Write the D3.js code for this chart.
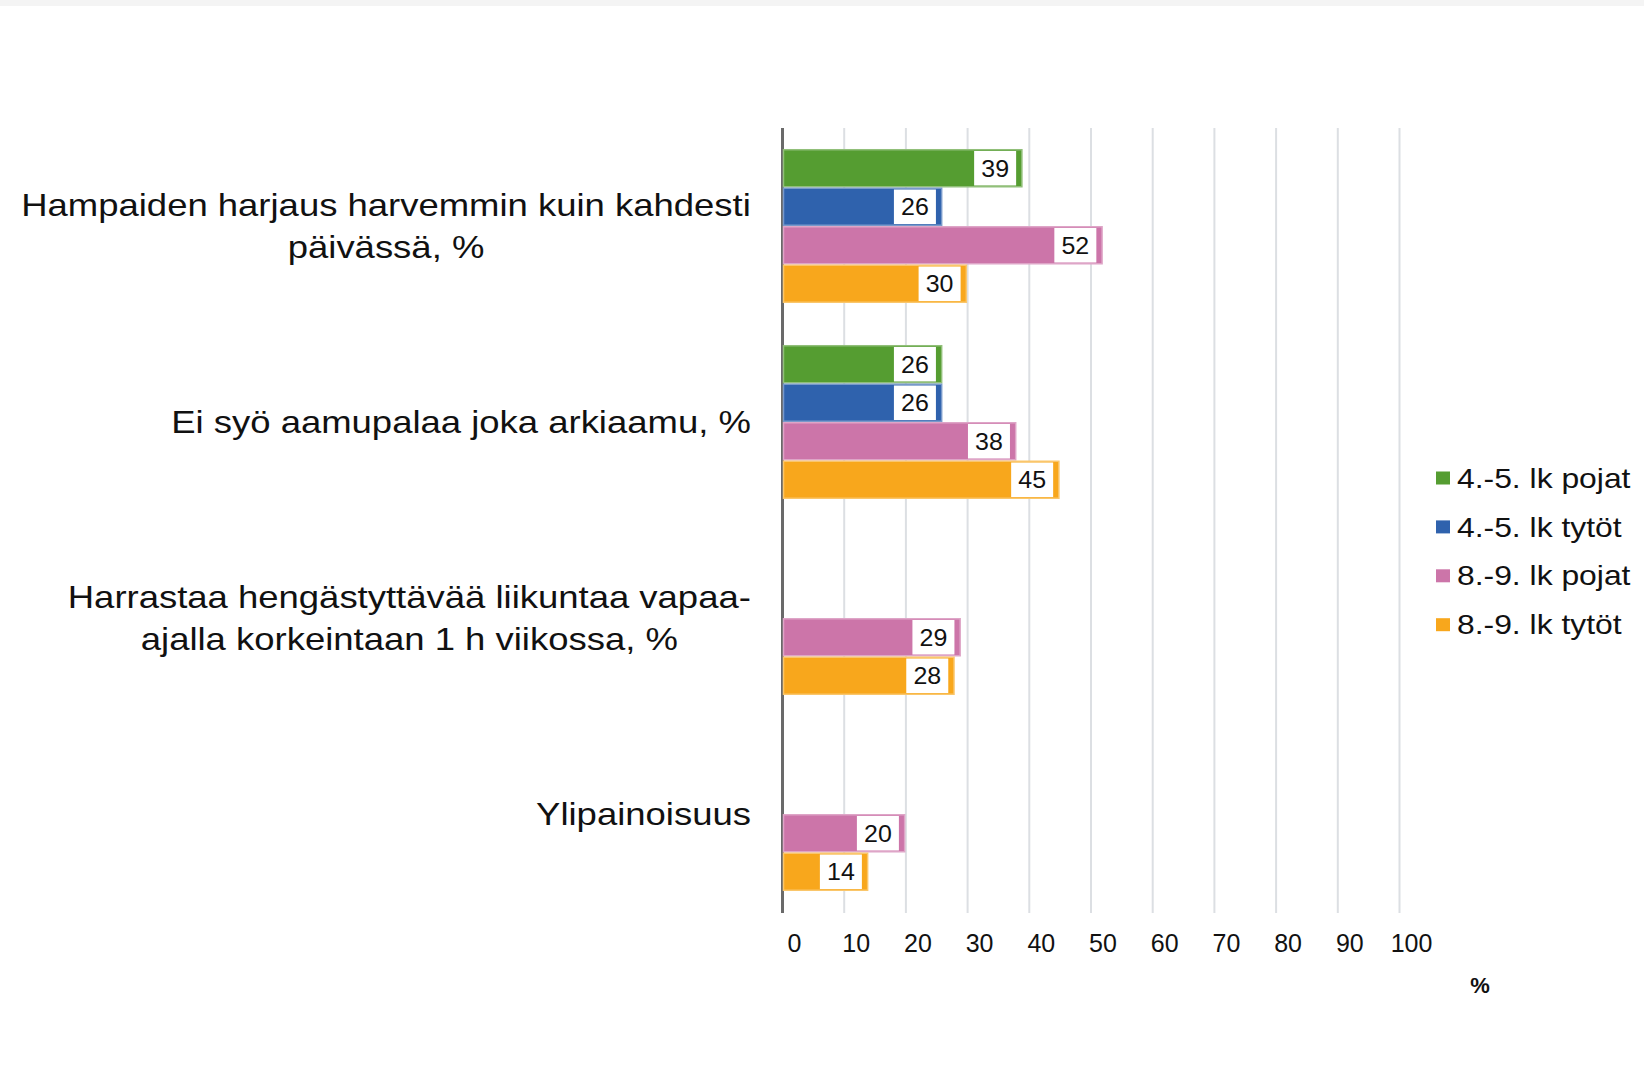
<!DOCTYPE html>
<html>
<head>
<meta charset="utf-8">
<script src="https://cdn.jsdelivr.net/npm/d3@7"></script>
<style>
  html, body { margin: 0; padding: 0; background: #ffffff; }
  svg { display: block; font-family: "Liberation Sans", Arial, sans-serif; }
</style>
</head>
<body>
<div id="chart"></div>
<script>
// Data
var categories = [
    ["Hampaiden harjaus harvemmin kuin kahdesti", "päivässä, %"],
    ["Ei syö aamupalaa joka arkiaamu, %"],
    ["Harrastaa hengästyttävää liikuntaa vapaa-", "ajalla korkeintaan 1 h viikossa, %"],
    ["Ylipainoisuus"]
];
var seriesNames = ["4.-5. lk pojat", "4.-5. lk tytöt", "8.-9. lk pojat", "8.-9. lk tytöt"];
var seriesColors = ["#559d31", "#2f62ad", "#cc75a9", "#f8a71c"];
var boys45 = [39, 26, null, null];
var girls45 = [26, 26, null, null];
var boys89 = [52, 38, 29, 20];
var girls89 = [30, 45, 28, 14];
var tickValues = [0, 10, 20, 30, 40, 50, 60, 70, 80, 90, 100];
var axisTitle = "%";

var seriesValues = [boys45, girls45, boys89, girls89];

// Layout
var width = 1644, height = 1090;
var plotLeft = 782, plotRight = 1399;
var plotTop = 128, plotBottom = 913;

var svg = d3.select("#chart").append("svg")
    .attr("width", width)
    .attr("height", height);

svg.append("rect")
    .attr("x", 0).attr("y", 0)
    .attr("width", width).attr("height", 6)
    .attr("fill", "#f4f4f4");

var x = d3.scaleLinear().domain([0, 100]).range([plotLeft, plotRight]);

var y0 = d3.scaleBand()
    .domain(d3.range(categories.length))
    .range([plotTop, plotBottom - 1])
    .padding(0);

var y1 = d3.scaleBand()
    .domain(d3.range(seriesNames.length))
    .range([0, y0.bandwidth()])
    .paddingInner(0)
    .paddingOuter(0.545);

// Gridlines + tick labels through the axis
var xAxis = d3.axisBottom(x)
    .tickValues(tickValues)
    .tickSize(-(plotBottom - plotTop))
    .tickPadding(21)
    .tickFormat(d3.format("d"));

var axisG = svg.append("g")
    .attr("transform", "translate(0," + plotBottom + ")")
    .call(xAxis);

axisG.select(".domain").remove();
axisG.selectAll(".tick line")
    .attr("stroke", function(d) { return d === 0 ? "#6a6a6a" : "#dcdfe3"; })
    .attr("stroke-width", function(d) { return d === 0 ? 3 : 2; });
axisG.selectAll(".tick text")
    .attr("dx", 12)
    .attr("fill", "#111")
    .style("font-size", "25px")
    .style("font-family", "'Liberation Sans', Arial, sans-serif");

// keep the axis line on top of the gridlines
axisG.selectAll(".tick").filter(function(d) { return d === 0; }).raise();

svg.append("text")
    .attr("x", 1480)
    .attr("y", 985)
    .attr("text-anchor", "middle")
    .attr("dominant-baseline", "central")
    .attr("font-size", 22)
    .attr("font-weight", "bold")
    .attr("fill", "#111")
    .text(axisTitle);

// Bars
var groupG = svg.append("g").attr("class", "bars").selectAll(".group")
    .data(categories)
    .enter()
    .append("g")
    .attr("class", "group")
    .attr("transform", function(d, i) { return "translate(0," + y0(i) + ")"; });

groupG.each(function(cat, gi) {
    var g = d3.select(this);
    var items = seriesValues.map(function(vals, si) {
        return { series: si, value: vals[gi] };
    }).filter(function(d) { return d.value != null; });

    var barG = g.selectAll(".bar")
        .data(items)
        .enter()
        .append("g")
        .attr("class", "bar");

    barG.append("rect")
        .attr("x", x(0) + 1.5)
        .attr("y", function(d) { return y1(d.series) + 0.75; })
        .attr("width", function(d) { return x(d.value) - x(0) - 2.25; })
        .attr("height", y1.bandwidth() - 1.5)
        .attr("fill", function(d) { return seriesColors[d.series]; })
        .attr("stroke", function(d) { return d3.interpolateRgb(seriesColors[d.series], "#ffffff")(0.35); })
        .attr("stroke-width", 1.5);

    var boxW = 42;
    barG.append("rect")
        .attr("x", function(d) { return x(d.value) - 6.5 - boxW; })
        .attr("y", function(d) { return y1(d.series) + 2; })
        .attr("width", boxW)
        .attr("height", y1.bandwidth() - 4)
        .attr("fill", "#ffffff");

    barG.append("text")
        .attr("transform", function(d) {
            var cx = x(d.value) - 6.5 - boxW / 2;
            var cy = y1(d.series) + y1.bandwidth() / 2;
            return "translate(" + cx + "," + cy + ") scale(1.04,1)";
        })
        .attr("text-anchor", "middle")
        .attr("dominant-baseline", "central")
        .attr("font-size", 24)
        .attr("fill", "#111")
        .text(function(d) { return d.value; });
});

// Category labels, lines centred on each other, block right-aligned
var labelRight = 751;
var labelScale = 1.14;
var lineGap = 42;

categories.forEach(function(lines, gi) {
    var cy = y0(gi) + y0.bandwidth() / 2;
    var lg = svg.append("g").attr("class", "catLabel");
    var texts = lg.selectAll("text")
        .data(lines)
        .enter()
        .append("text")
        .attr("text-anchor", "middle")
        .attr("dominant-baseline", "central")
        .attr("font-size", 32)
        .attr("fill", "#111")
        .attr("y", function(d, i) { return (i - (lines.length - 1) / 2) * lineGap; })
        .text(function(d) { return d; });
    var maxW = d3.max(texts.nodes(), function(n) { return n.getComputedTextLength(); }) * labelScale;
    lg.attr("transform", "translate(" + (labelRight - maxW / 2) + "," + cy + ") scale(" + labelScale + ",1)");
});

// Legend
var legendX = 1436, legendY = 478, legendStep = 48.9;
var legendG = svg.append("g").selectAll(".legendItem")
    .data(seriesNames)
    .enter()
    .append("g")
    .attr("class", "legendItem")
    .attr("transform", function(d, i) { return "translate(" + legendX + "," + (legendY + i * legendStep) + ")"; });

legendG.append("rect")
    .attr("x", 0)
    .attr("y", -6.5)
    .attr("width", 14)
    .attr("height", 13)
    .attr("fill", function(d, i) { return seriesColors[i]; });

legendG.append("text")
    .attr("transform", "translate(21,0) scale(1.18,1)")
    .attr("dominant-baseline", "central")
    .attr("font-size", 27)
    .attr("fill", "#111")
    .text(function(d) { return d; });
</script>
</body>
</html>
